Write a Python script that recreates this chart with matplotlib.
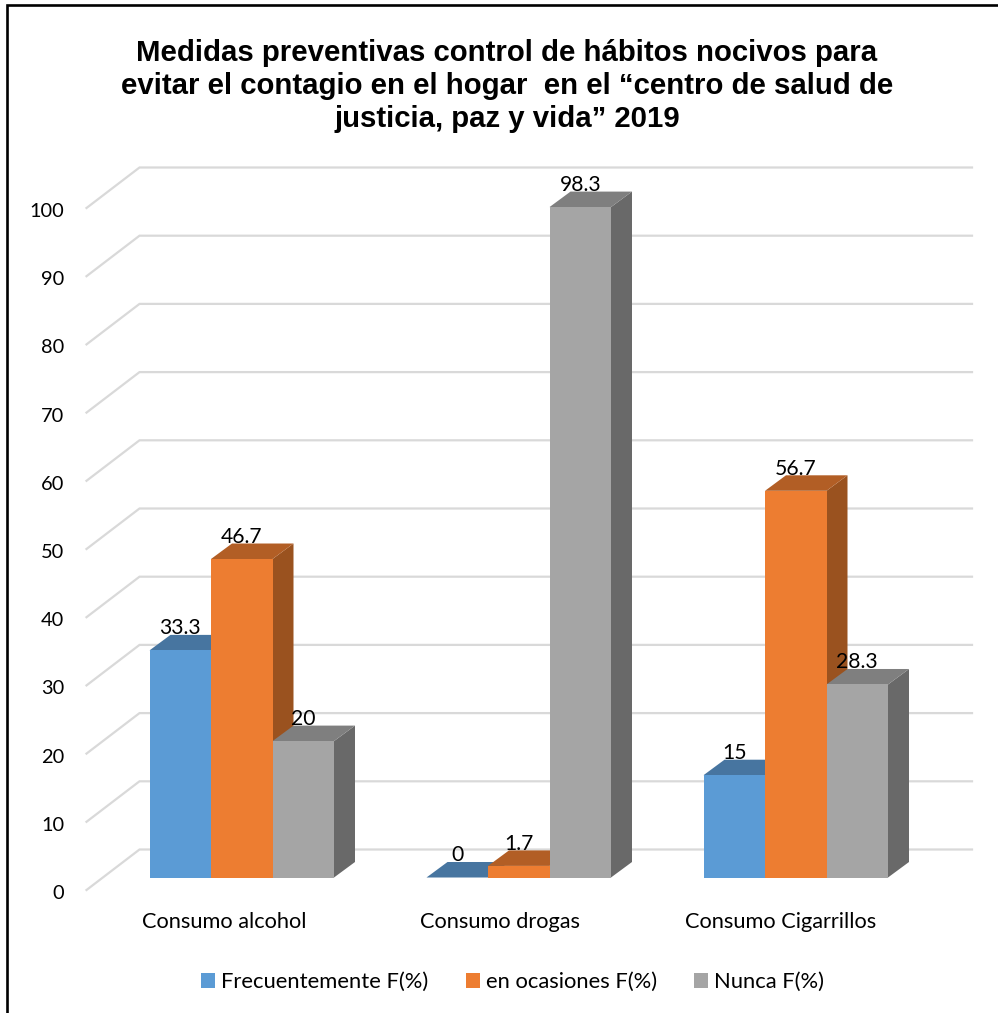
import matplotlib
matplotlib.use('Agg')
import matplotlib.pyplot as plt
from matplotlib.lines import Line2D
from matplotlib.patches import Polygon, Patch

categories = ['Consumo alcohol', 'Consumo drogas', 'Consumo Cigarrillos']
series = ['Frecuentemente F(%)', 'en ocasiones F(%)', 'Nunca F(%)']
frecuente = [33.3, 0, 15]
ocasiones = [46.7, 1.7, 56.7]
nunca = [20, 98.3, 28.3]
labels_frecuente = ['33.3', '0', '15']
labels_ocasiones = ['46.7', '1.7', '56.7']
labels_nunca = ['20', '98.3', '28.3']
yticks = [0, 10, 20, 30, 40, 50, 60, 70, 80, 90, 100]
title = 'Medidas preventivas control de hábitos nocivos para\nevitar el contagio en el hogar  en el “centro de salud de\njusticia, paz y vida” 2019'

front_col = ['#5B9BD5', '#ED7D31', '#A5A5A5']
top_col = ['#4775A0', '#B25E25', '#7F7F7F']
side_col = ['#3E6A94', '#9A521F', '#696969']

W, H = 998, 1013
fig = plt.figure(figsize=(W / 100, H / 100), dpi=100, facecolor='white')

# pixel geometry of the plot: 277 px per category, 6.82 px per unit
# axes run a bit under the floor so the 0 tick label stays inside the limits
left, right, bottom, top = 86.5, 972, 900, 168
xlim = ((left - 241.75) / 277, (right - 241.75) / 277)
ylim = ((877.5 - bottom) / 6.82, (877.5 - top) / 6.82)
ax = fig.add_axes([left / W, 1 - bottom / H, (right - left) / W, (bottom - top) / H])
for s in ax.spines.values():
    s.set_visible(False)
ax.patch.set_visible(False)

bar_w = 61.5 / 277
dx = 21 / 277
dy = 15.5 / 6.82
wall_x = (139.5 - 241.75) / 277
wall_off = (877.5 - 849.5) / 6.82
front_off = (877.5 - 890) / 6.82

# walls
for v in yticks:
    ax.plot([xlim[0], wall_x, xlim[1]],
            [v + front_off, v + wall_off, v + wall_off],
            color='#D9D9D9', lw=1.6, zorder=1, clip_on=False, solid_joinstyle='miter')

# tick labels sit about 2 px under the end of their gridline
ax.set_yticks([v + front_off - 0.3 for v in yticks], [str(v) for v in yticks])
ax.tick_params(axis='y', length=0, pad=16, labelsize=14.4, labelfontfamily='Lato')
ax.set_xticks([])

z = 2
all_vals = [frecuente, ocasiones, nunca]
all_labs = [labels_frecuente, labels_ocasiones, labels_nunca]
for g in range(3):
    for i in range(3):
        val = all_vals[i][g]
        x0 = g + (i - 1.5) * bar_w
        x1 = x0 + bar_w
        ax.add_patch(Polygon([(x1, 0), (x1 + dx, dy), (x1 + dx, val + dy), (x1, val)],
                             color=side_col[i], lw=0, zorder=z))
        ax.add_patch(Polygon([(x0, val), (x1, val), (x1 + dx, val + dy), (x0 + dx, val + dy)],
                             color=top_col[i], lw=0, zorder=z))
        ax.bar(x0 + bar_w / 2, val, bar_w, color=front_col[i], lw=0, zorder=z)
        z += 1

for g in range(3):
    for i in range(3):
        val = all_vals[i][g]
        ax.text(g + (i - 1) * bar_w, val + dy + 0.1, all_labs[i][g], ha='center', va='baseline',
                fontsize=15.2, family='Lato', color='black', zorder=50)

# category labels sit left of the bar groups
label_shift = [-18, -18.5, -15.5]
for g, name in enumerate(categories):
    ax.text(g + label_shift[g] / 277, (877.5 - 922) / 6.82, name, ha='center', va='center',
            fontsize=15.7, family='Lato', color='black')

# set the limits last, the ticks and bars would move them
ax.set_xlim(xlim)
ax.set_ylim(ylim)

fig.text(507 / W, 1 - 86 / H, title, ha='center', va='center', fontsize=21.15, fontweight='bold',
         family='Liberation Sans', linespacing=1.23, color='black')

handles = [Patch(color=c, lw=0) for c in front_col]
fig.legend(handles, series, ncol=3, loc='center', bbox_to_anchor=(512.5 / W, 1 - 982 / H),
           frameon=False, prop={'family': 'Lato', 'size': 15.8},
           handlelength=0.64, handleheight=0.64, handletextpad=0.27, columnspacing=1.69)

# black frame of the picture: left and top only
fig.add_artist(Line2D([7 / W, 7 / W, 1], [0, 1 - 5.5 / H, 1 - 5.5 / H],
                      transform=fig.transFigure, color='black', lw=1.9,
                      solid_joinstyle='miter'))

fig.savefig('out.png', dpi=100)
